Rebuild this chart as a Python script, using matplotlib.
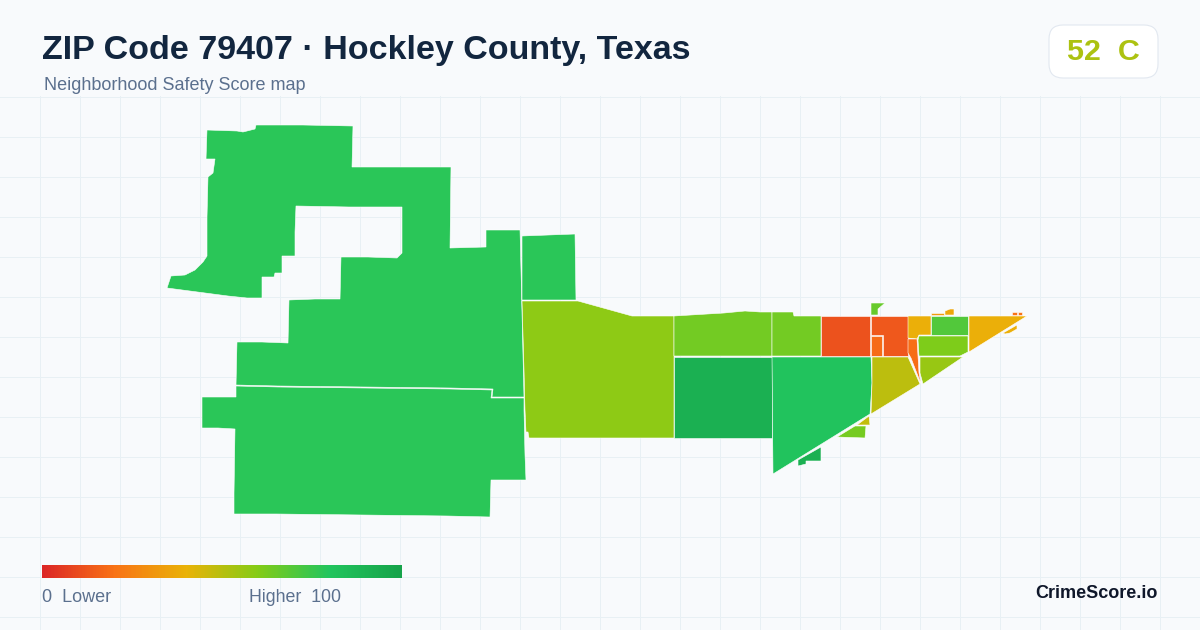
import numpy as np
import matplotlib
matplotlib.use('Agg')
import matplotlib.pyplot as plt
from matplotlib.colors import LinearSegmentedColormap
from matplotlib.patches import FancyBboxPatch, Polygon

plt.rcParams['font.family'] = ['Liberation Sans', 'DejaVu Sans']

# legend colour ramp
ramp_stops = [0, 0.2, 0.4, 0.6, 0.8, 1]
ramp_colors = ['#dc2626', '#f97316', '#eab308', '#84cc16', '#22c55e', '#16a34a']

# tract outlines, with the score of each tract
north_tract = [(207, 130), (237, 131), (243, 132), (255, 129), (256, 125), (303, 125), (353, 126), (352, 167),
               (451, 167), (450, 248), (486, 247), (486, 230), (520, 230), (521, 270), (524, 397), (492, 397),
               (493, 389), (450, 388), (364, 387), (278, 386), (236, 385), (237, 342), (262, 342), (288, 343),
               (289, 300), (315, 299), (340, 299), (341, 257), (368, 257), (397, 258), (402, 253), (402, 207),
               (349, 207), (296, 206), (295, 232), (295, 256), (282, 256), (282, 273), (275, 273), (274, 277),
               (262, 277), (262, 298), (247, 298), (228, 296), (167, 288), (171, 276), (185, 275), (195, 270),
               (203, 262), (207, 256), (207, 217), (208, 177), (213, 173), (215, 159), (206, 159)]
south_tract = [(236, 386), (278, 387), (364, 388), (450, 389), (492, 390), (491, 398), (524, 398), (524, 410),
               (525, 455), (526, 480), (491, 480), (490, 517), (447, 516), (362, 515), (276, 514), (234, 514),
               (234, 493), (235, 429), (218, 428), (202, 428), (202, 397), (236, 397)]
square_tract = [(522, 236), (575, 234), (576, 300), (522, 300)]
lime_west = [(522, 301), (578, 301), (632, 316), (674, 316), (674, 438), (529, 438), (528, 432), (526, 432),
             (525, 410), (524, 370)]
lime_mid_a = [(674, 316), (724, 313), (745, 311), (760, 312), (772, 312), (772, 356), (674, 356)]
lime_mid_b = [(772, 312), (793, 312), (794, 316), (821, 316), (821, 356), (772, 356)]
dark_square = [(674, 357), (772, 357), (772, 438), (674, 438)]
big_triangle = [(772, 357), (871, 357), (872, 383), (870, 414), (773, 474)]
red_a = [(821, 316), (870, 316), (870, 356), (821, 356)]
red_b = [(871, 316), (908, 316), (908, 356), (883, 356), (883, 335), (871, 335)]
orange_small = [(871, 336), (882, 336), (882, 356), (871, 356)]
green_stub = [(871, 303), (885, 303), (878, 309), (878, 315), (871, 315)]
yellow_a = [(908, 316), (931, 316), (931, 335), (919, 335), (917, 339), (908, 338)]
green_box = [(931, 316), (968, 316), (968, 335), (931, 335)]
yellow_east = [(969, 316), (1027, 316), (969, 352)]
lime_east = [(919, 336), (968, 336), (968, 352), (960, 356), (919, 356), (918, 340)]
lime_wedge = [(920, 357), (963, 357), (923, 384), (920, 373)]
orange_sliver = [(908, 339), (917, 339), (918, 356), (919, 373), (921, 384), (911, 358), (908, 353)]
olive_tract = [(872, 357), (908, 357), (920, 384), (871, 414), (872, 383)]
olive_bit = [(869, 416), (870, 425), (857, 425)]
lime_bit = [(855, 426), (866, 426), (865, 438), (837, 437)]
dark_bit = [(821, 447), (821, 461), (806, 461), (806, 464), (798, 466), (798, 460)]
top_bit_a = [(931, 313), (944, 313), (944, 315), (931, 315)]
top_bit_b = [(945, 311), (950, 309), (954, 309), (954, 315), (945, 315)]
tiny_a = [(1012, 312), (1017, 312), (1017, 315), (1012, 315)]
tiny_b = [(1018, 312), (1022, 312), (1022, 315), (1018, 315)]
east_bit = [(1017, 325), (1017, 329), (1010, 333), (1005, 334), (1003, 333)]

tracts = [north_tract, south_tract, square_tract, lime_west, lime_mid_a, lime_mid_b, dark_square, big_triangle,
          red_a, red_b, orange_small, green_stub, yellow_a, green_box, yellow_east, lime_east, lime_wedge,
          orange_sliver, olive_tract, olive_bit, lime_bit, dark_bit, top_bit_a, top_bit_b, tiny_a, tiny_b, east_bit]
scores = [78.5, 78.5, 78.5, 58, 63.5, 63.5, 92, 81,
          11.5, 13, 18, 66, 39, 70, 39, 61, 56,
          19, 49, 48, 63, 92, 33, 36, 20, 20, 39]

overall_score = 52
grade = 'C'
title = 'ZIP Code 79407 · Hockley County, Texas'
subtitle = 'Neighborhood Safety Score map'
brand = 'CrimeScore.io'

cmap = LinearSegmentedColormap.from_list('safety', list(zip(ramp_stops, ramp_colors)))


def px(size):
    # css pixels to points at dpi 100
    return size * 0.72


fig = plt.figure(figsize=(12, 6.3), dpi=100, facecolor='#f8fafc')
ax = fig.add_axes([0, 0, 1, 1])
ax.set_xlim(0, 1200)
ax.set_ylim(630, 0)
ax.axis('off')

# background grid, only below the header
for x in np.arange(40, 1200, 40):
    ax.plot([x, x], [96, 630], color='#e8f0f4', lw=0.72, zorder=1)
for y in np.arange(96.5, 630, 40):
    ax.plot([0, 1200], [y, y], color='#e8f0f4', lw=0.72, zorder=1)

for outline, score in zip(tracts, scores):
    ax.add_patch(Polygon(outline, closed=True, facecolor=cmap(score / 100), edgecolor='white', lw=0.4, zorder=2))

# header
ax.text(42, 50, title, fontsize=px(34), fontweight='bold', color='#12263f', va='center', ha='left', zorder=4)
ax.text(44, 86, subtitle, fontsize=px(18), color='#5b708e', va='center', ha='left', zorder=4)

# grade badge
ax.add_patch(FancyBboxPatch((1049, 25), 109, 53, boxstyle='round,pad=0,rounding_size=14',
                            facecolor='white', edgecolor='#e2e8f0', lw=0.8, zorder=3))
ax.text(1103, 52, f'{overall_score}  {grade}', fontsize=px(30.5), fontweight='bold', color=cmap(overall_score / 100),
        va='center', ha='center', zorder=4)

# legend
gradient = np.linspace(0, 100, 360).reshape(1, -1)
ax.imshow(gradient, cmap=cmap, vmin=0, vmax=100, extent=(42, 402, 578, 565), aspect='auto', zorder=3)
ax.set_xlim(0, 1200)
ax.set_ylim(630, 0)
ax.text(42, 598, '0  Lower', fontsize=px(18), color='#5b708e', va='center', ha='left', zorder=4)
ax.text(341, 598, 'Higher  100', fontsize=px(17.8), color='#5b708e', va='center', ha='right', zorder=4)

ax.text(1158, 594, brand, fontsize=px(18), fontweight='bold', color='#0f172a', va='center', ha='right', zorder=4)

fig.savefig('out.png', dpi=100, facecolor=fig.get_facecolor())
